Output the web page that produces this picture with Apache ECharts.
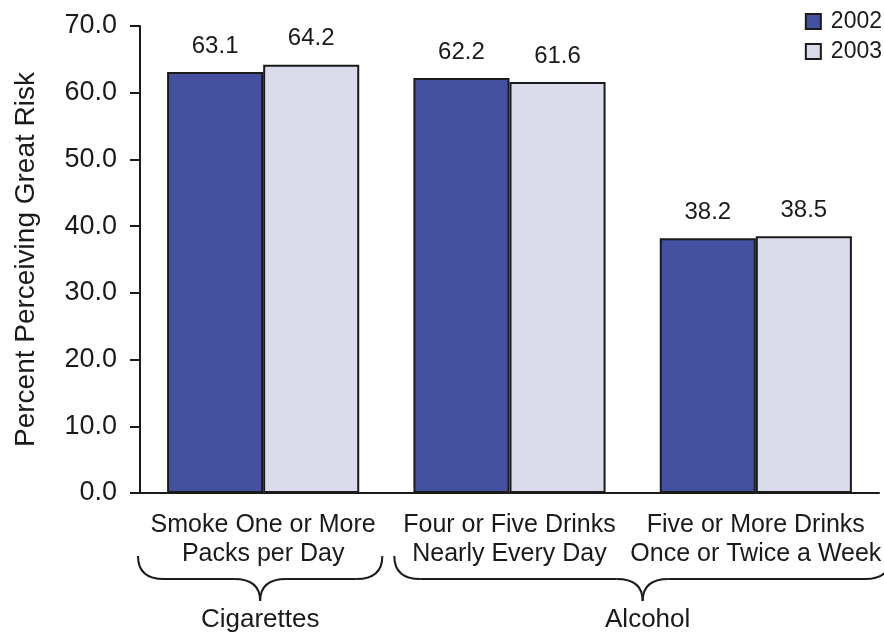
<!DOCTYPE html>
<html>
<head>
<meta charset="utf-8">
<script src="https://cdn.jsdelivr.net/npm/echarts@6/dist/echarts.min.js"></script>
<style>
  html, body { margin: 0; padding: 0; background: #fff; }
  #chart { width: 884px; height: 634px; }
</style>
</head>
<body>
<div id="chart"></div>
<script>
// Perceived great risk of substance use, by year
const categories = [
  'Smoke One or More\nPacks per Day',
  'Four or Five Drinks\nNearly Every Day',
  'Five or More Drinks\nOnce or Twice a Week'
];
const years = ['2002', '2003'];
const values2002 = [63.1, 62.2, 38.2];
const values2003 = [64.2, 61.6, 38.5];
const yTicks = [0, 10, 20, 30, 40, 50, 60, 70];
// substance groups: label plus first and last category index
const groupLabels = ['Cigarettes', 'Alcohol'];
const groupStart = [0, 1];
const groupEnd = [0, 2];

const FONT = 'Liberation Sans, Arial, sans-serif';
const INK = '#1a1a1a';

const chart = echarts.init(document.getElementById('chart'), null, { renderer: 'canvas' });

const barLabel = {
  show: true,
  position: 'top',
  distance: 14,
  fontFamily: FONT,
  fontSize: 24,
  color: INK,
  formatter: p => p.value.toFixed(1)
};

chart.setOption({
  animation: false,
  backgroundColor: '#fff',
  grid: { left: 140, right: 3, top: 26, bottom: 141, containLabel: false },
  legend: {
    orient: 'vertical',
    right: 2,
    top: 10,
    padding: 0,
    itemWidth: 15,
    itemHeight: 15,
    itemGap: 7,
    icon: 'rect',
    textStyle: { fontFamily: FONT, fontSize: 23, color: INK, padding: [0, 0, 0, 5] },
    data: years
  },
  xAxis: {
    type: 'category',
    data: categories,
    axisLine: { lineStyle: { color: INK, width: 2 } },
    axisTick: { show: false },
    axisLabel: {
      fontFamily: FONT,
      fontSize: 25,
      color: INK,
      lineHeight: 29,
      margin: 18,
      interval: 0
    }
  },
  yAxis: {
    type: 'value',
    min: yTicks[0],
    max: yTicks[yTicks.length - 1],
    interval: 10,
    name: 'Percent Perceiving Great Risk',
    nameLocation: 'middle',
    nameGap: 100,
    nameTextStyle: { fontFamily: FONT, fontSize: 28, color: INK },
    splitLine: { show: false },
    axisLine: { show: true, lineStyle: { color: INK, width: 2 } },
    axisTick: { show: true, length: 10, lineStyle: { color: INK, width: 2 } },
    axisLabel: {
      fontFamily: FONT,
      fontSize: 27,
      color: INK,
      margin: 23,
      formatter: v => v.toFixed(1)
    }
  },
  series: [
    {
      name: years[0],
      type: 'bar',
      data: values2002,
      barGap: '0%',
      barCategoryGap: '22%',
      itemStyle: { color: '#4451A1', borderColor: INK, borderWidth: 2 },
      label: barLabel
    },
    {
      name: years[1],
      type: 'bar',
      data: values2003,
      itemStyle: { color: '#DADCEB', borderColor: INK, borderWidth: 2 },
      label: barLabel
    }
  ]
});

// Curly brace built from quadratic curves and straight runs
function braceParts(x1, x2, yTop, yMid, yTip) {
  const xc = (x1 + x2) / 2;
  const r = 26;
  const line = { stroke: INK, lineWidth: 2, fill: null };
  const curve = (ax, ay, cx, cy, bx, by) => ({
    type: 'bezierCurve',
    shape: { x1: ax, y1: ay, cpx1: cx, cpy1: cy, x2: bx, y2: by },
    style: line
  });
  const seg = (ax, ay, bx, by) => ({
    type: 'line',
    shape: { x1: ax, y1: ay, x2: bx, y2: by },
    style: line
  });
  return [
    curve(x1, yTop, x1, yMid, x1 + r, yMid),
    seg(x1 + r, yMid, xc - r, yMid),
    curve(xc - r, yMid, xc, yMid, xc, yTip),
    curve(xc, yTip, xc, yMid, xc + r, yMid),
    seg(xc + r, yMid, x2 - r, yMid),
    curve(x2 - r, yMid, x2, yMid, x2, yTop)
  ];
}

// Braces under the category labels, grouping them by substance
function drawBraces() {
  const elements = [];
  const p0 = chart.convertToPixel({ xAxisIndex: 0 }, 0);
  const p1 = chart.convertToPixel({ xAxisIndex: 0 }, 1);
  const band = p1 - p0;
  groupLabels.forEach((label, i) => {
    const left = chart.convertToPixel({ xAxisIndex: 0 }, groupStart[i]) - band / 2;
    const right = chart.convertToPixel({ xAxisIndex: 0 }, groupEnd[i]) + band / 2;
    const x1 = left + (i === 0 ? -2 : 8);
    const x2 = right + (i === 0 ? -4 : 12);
    const xc = (x1 + x2) / 2;
    braceParts(x1, x2, 556, 579, 601).forEach(el => elements.push(el));
    elements.push({
      type: 'text',
      x: xc + (i === 0 ? 0 : 5),
      y: 620,
      style: {
        text: label,
        fontFamily: FONT,
        fontSize: 26,
        fill: INK,
        align: 'center',
        verticalAlign: 'middle'
      }
    });
  });
  chart.setOption({ graphic: elements });
}
drawBraces();
</script>
</body>
</html>
